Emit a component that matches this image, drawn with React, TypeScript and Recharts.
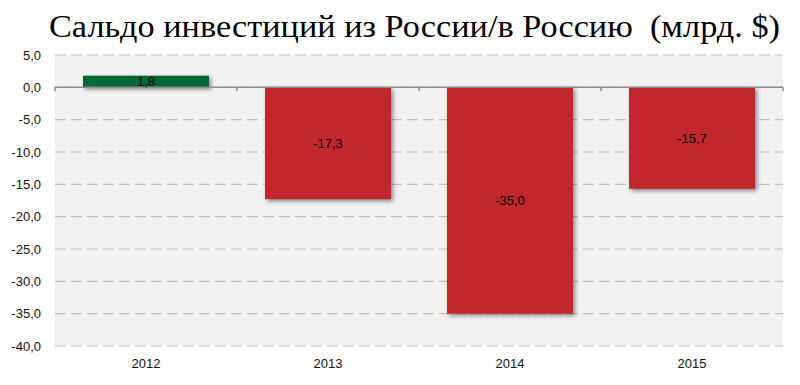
import React from 'react';
import { BarChart, Bar, XAxis, YAxis, CartesianGrid, ReferenceLine, LabelList, Cell } from 'recharts';

const years = ['2012', '2013', '2014', '2015'];
const balance = [1.8, -17.3, -35.0, -15.7];
const yTicks = [5, 0, -5, -10, -15, -20, -25, -30, -35, -40];
const titleText = 'Сальдо инвестиций из России/в Россию\u00A0 (млрд. $)';

const data = years.map((y, i) => ({ year: y, value: balance[i] }));

const fmt = (v: number) => v.toFixed(1).replace('.', ',');

const BarShape = (props: any) => {
  const { x, y, width, height, fill } = props;
  const h = Math.abs(height);
  const top = height < 0 ? y + height : y;
  return (
    <rect
      x={x}
      y={top}
      width={width}
      height={h}
      fill={fill}
      style={{ filter: 'drop-shadow(2px 2px 2px rgba(0,0,0,0.45))' }}
    />
  );
};

const ZeroLine = (props: any) => {
  const { x1, y1, x2, y2 } = props;
  const n = years.length;
  const marks = [];
  for (let i = 0; i <= n; i++) {
    const xx = x1 + ((x2 - x1) * i) / n;
    marks.push(<line key={i} x1={xx} y1={y1} x2={xx} y2={y1 + 4} stroke="#8c8c8c" strokeWidth={1.5} />);
  }
  return (
    <g>
      <line x1={x1} y1={y1} x2={x2} y2={y2} stroke="#8c8c8c" strokeWidth={1.5} />
      {marks}
    </g>
  );
};

export default function App() {
  const font = '"Liberation Sans", Arial, sans-serif';
  return (
    <div style={{ position: 'absolute', left: 0, top: 0, width: 800, height: 385, background: '#fff' }}>
      <svg width={800} height={50} style={{ position: 'absolute', left: 0, top: 0 }}>
        <text
          x={49}
          y={37}
          fontFamily='"Liberation Serif", "DejaVu Serif", serif'
          fontSize={31}
          fill="#000"
          textLength={731}
          lengthAdjust="spacingAndGlyphs"
        >
          {titleText}
        </text>
      </svg>
      <div style={{ position: 'absolute', left: 0, top: 0 }}>
        <BarChart
          width={800}
          height={385}
          data={data}
          margin={{ top: 55, right: 17, left: 0, bottom: 9 }}
          barSize={126}
        >
          <CartesianGrid
            vertical={false}
            fill="#f2f2f2"
            stroke="#bfbfbf"
            strokeDasharray="11 5"
            strokeWidth={1.2}
          />
          <XAxis
            dataKey="year"
            height={30}
            axisLine={false}
            tickLine={false}
            tickMargin={7}
            tick={{ fontFamily: font, fontSize: 13, fill: '#111' }}
          />
          <YAxis
            width={55}
            domain={[-40, 5]}
            ticks={yTicks}
            interval={0}
            axisLine={false}
            tickLine={false}
            tickMargin={8}
            tickFormatter={fmt}
            tick={{ fontFamily: font, fontSize: 13, fill: '#111' }}
          />
          <ReferenceLine y={0} shape={ZeroLine} ifOverflow="extendDomain" />
          <Bar dataKey="value" isAnimationActive={false} shape={BarShape}>
            {data.map((d, i) => (
              <Cell key={i} fill={d.value >= 0 ? '#006837' : '#c1272d'} />
            ))}
            <LabelList
              dataKey="value"
              position="center"
              formatter={(v: any) => fmt(Number(v))}
              style={{ fontFamily: font, fontSize: 13, fill: '#000' }}
            />
          </Bar>
        </BarChart>
      </div>
    </div>
  );
}
